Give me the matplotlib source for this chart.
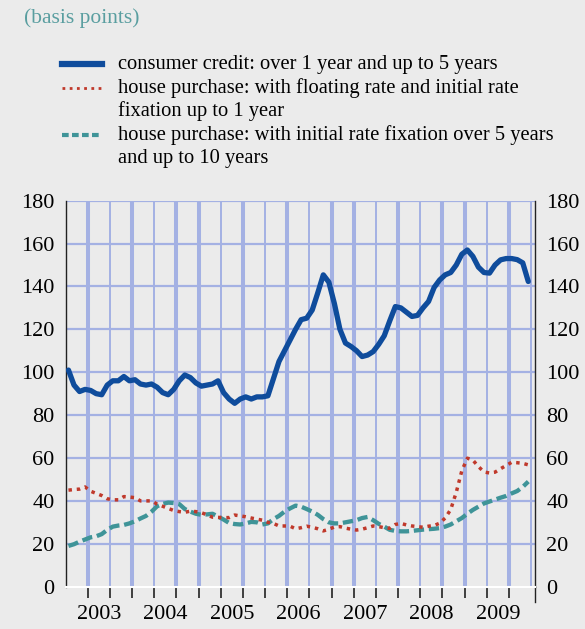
import numpy as np
import matplotlib.pyplot as plt
from matplotlib.lines import Line2D

# monthly data, Jan 2003 - Dec 2009 (basis points)
consumer = [101, 94, 91, 92, 91.5, 90, 89.5, 94, 96, 96, 98, 96,
            96.5, 94.5, 94, 94.5, 93, 90.5, 89.5, 92, 96, 98.7, 97.5, 95,
            93.5, 94, 94.5, 96, 90.5, 87.5, 85.5, 87.5, 88.5, 87.5, 88.5, 88.5,
            89, 97, 105, 110, 115, 120, 124.5, 125.2, 129, 137, 145.4, 142,
            132, 120, 113.6, 112, 110, 107.3, 108, 109.6, 113, 117, 124, 130.6,
            130, 128, 126, 126.5, 130, 133, 139.5, 143, 145.4, 146.5, 150, 155,
            157, 154, 149, 146.5, 146.2, 150, 152.4, 153, 153, 152.5, 151, 142.3]
house_float = [45, 45.3, 45.5, 46.5, 44.5, 43.5, 42.5, 41, 40.5, 40.5, 42, 41.8,
               41.5, 40, 40, 40, 38.5, 37.5, 36.5, 35.5, 35, 34.7, 35.2, 35,
               34.5, 33.5, 32.4, 32.3, 32.2, 32.2, 33.4, 33, 32.6, 32, 31.5, 31,
               30, 29.5, 28.3, 28.3, 28.2, 27, 27.5, 28.2, 27.7, 27, 26, 26.8,
               27.8, 28, 27.3, 26.8, 26.4, 26.8, 27.5, 28.3, 28, 27.5, 27.2, 29,
               29.5, 28.8, 28.3, 28, 27.7, 28.2, 28.5, 29.6, 32, 36, 44, 54,
               59.9, 59, 56, 53.5, 53, 53.4, 55, 56.5, 58, 57.8, 57.5, 56.8]
house_fix = [19, 19.8, 21, 22, 23, 23.5, 24.5, 26.5, 28, 28.5, 28.8, 29.5,
             30.5, 31.8, 33, 35, 37.5, 38.6, 39.2, 39, 38.5, 36.2, 35, 34,
             33.5, 33.7, 34, 32.7, 31.3, 29.7, 29.2, 29, 29.5, 30.2, 30, 29,
             29.5, 31.5, 33, 35, 36.5, 37.8, 37.3, 36.2, 35, 33.5, 31.5, 30,
             29.5, 29.5, 30, 30.5, 31, 32, 32.5, 31, 29.3, 28, 26.5, 26,
             25.8, 25.8, 26, 26.3, 26.6, 26.8, 27, 27.3, 28, 29, 30.5, 32,
             34, 35.8, 37.3, 38.8, 39.7, 40.6, 41.5, 42.3, 43.5, 44.6, 46.5, 49]
years = [2003, 2004, 2005, 2006, 2007, 2008, 2009]
yticks = [0, 20, 40, 60, 80, 100, 120, 140, 160, 180]

labels = [['consumer credit: over 1 year and up to 5 years'],
          ['house purchase: with floating rate and initial rate', 'fixation up to 1 year'],
          ['house purchase: with initial rate fixation over 5 years', 'and up to 10 years']]

bg = '#ebebeb'
grid_c = '#a4b1e3'
blue = '#0f4c9c'
red = '#c0392b'
teal = '#3f9498'

plt.rcParams['font.family'] = ['Liberation Serif', 'DejaVu Serif']

fig = plt.figure(figsize=(5.85, 6.29), dpi=100, facecolor=bg)
ax = fig.add_axes([0.1123, 0.0673, 0.8023, 0.6137], facecolor=bg)

t = 2003 + (np.arange(len(consumer)) + 0.5) / 12

# grid: vertical every 4 months, horizontal every 20
vwidths = [2.9, 1.4, 2.9, 1.4, 2.9, 2.9, 1.4, 2.9, 1.4, 2.9, 1.4,
           2.9, 2.9, 1.4, 2.9, 1.4, 2.9, 2.9, 1.4, 2.9, 1.4]
for k, w in enumerate(vwidths):
    ax.axvline(2003 + (k + 1) / 3, color=grid_c, lw=w, zorder=1)
for y in yticks[1:]:
    ax.axhline(y, color=grid_c, lw=1.6, zorder=1)

ax.plot(t, house_fix, color=teal, lw=3.1, ls=(0, (2.4, 1.1)), zorder=3)
ax.plot(t, house_float, color=red, lw=2.5, ls=(0, (1, 1.4)), zorder=4)
ax.plot(t, consumer, color=blue, lw=3.8, zorder=5, solid_capstyle='round')

ax.set_xlim(2003.0, 2010.06)
ax.set_ylim(0, 180)
ax.set_yticks(yticks)
ax.tick_params(axis='y', length=0, labelsize=16, labelright=True, pad=8)

ax.set_xticks([y + 0.5 for y in years])
ax.set_xticklabels([str(y) for y in years])
ax.set_xticks([2003 + k / 3 for k in range(1, 21)], minor=True)
ax.tick_params(axis='x', which='major', length=0, labelsize=16, pad=13)
ax.tick_params(axis='x', which='minor', length=8, width=1.2, direction='out', color='#222222')

ax.spines['top'].set_visible(False)
ax.spines['bottom'].set_color('white')
ax.spines['bottom'].set_linewidth(1.5)
ax.spines['left'].set_color('#222222')
ax.spines['left'].set_linewidth(1.0)
ax.spines['right'].set_color('#222222')
ax.spines['right'].set_linewidth(1.0)
ax.plot([1, 1], [-0.04, 0], transform=ax.transAxes, color='#222222', lw=1.0, clip_on=False)

# header and legend
fig.text(24 / 585, 1 - 18 / 629, '(basis points)', color='#5a9ea0', fontsize=15.5, va='center', ha='left')

rows = [64, 88, 135]
handles = [dict(color=blue, lw=4.5, ls='-'),
           dict(color=red, lw=2.0, ls=(0, (1, 1.6))),
           dict(color=teal, lw=3.0, ls=(0, (1.6, 0.8)))]
for y, lab, h in zip(rows, labels, handles):
    yy = 1 - y / 629
    fig.add_artist(Line2D([62 / 585, 102 / 585], [yy, yy], transform=fig.transFigure, **h))
    for j, line in enumerate(lab):
        fig.text(118 / 585, 1 - (y + 23.3 * j) / 629, line, fontsize=14.8,
                 va='center', ha='left')

fig.savefig('out.png', dpi=100, facecolor=bg)
